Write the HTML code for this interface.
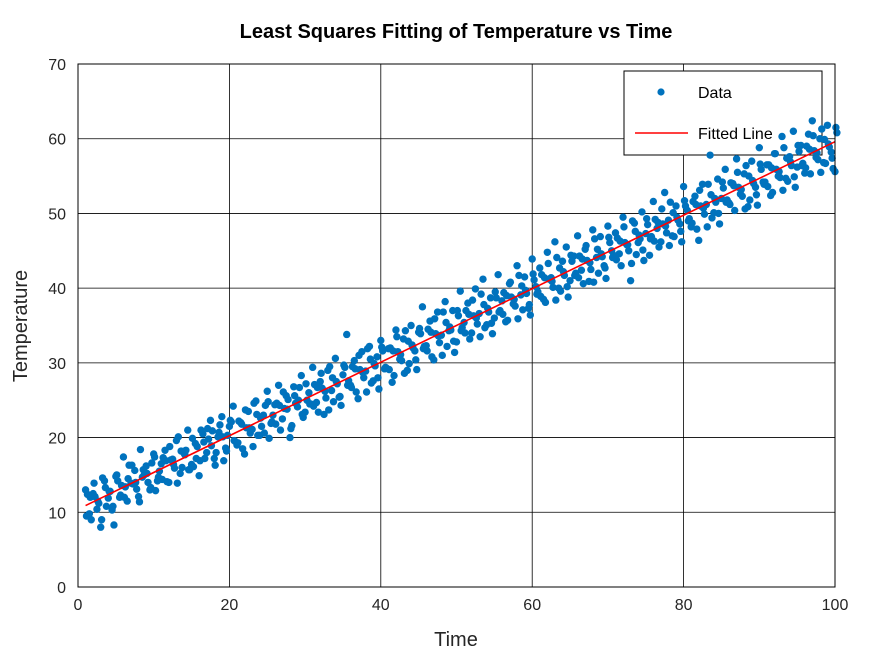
<!DOCTYPE html>
<html><head><meta charset="utf-8"><style>
body{margin:0;background:#fff;}
svg{display:block;font-family:"Liberation Sans",sans-serif;}
</style></head><body>
<svg id="chart" width="871" height="654">
<rect x="0" y="0" width="871" height="654" fill="#fff"/>
<text x="456" y="38" text-anchor="middle" font-size="20" font-weight="bold" fill="#000">Least Squares Fitting of Temperature vs Time</text>
<g id="grid"></g>
<g>
<rect x="624" y="71" width="198" height="84" fill="#fff" stroke="#000" stroke-width="1"/>
<circle cx="661" cy="92" r="3.6" fill="#0072BD"/>
<text x="698" y="98" font-size="16" fill="#000">Data</text>
<line x1="635" y1="133" x2="688" y2="133" stroke="#ff0000" stroke-width="1.6"/>
<text x="698" y="139" font-size="16" fill="#000">Fitted Line</text>
</g>
<g id="points"></g>
<g id="fit"></g>
<rect x="78" y="64" width="757" height="523" fill="none" stroke="#000" stroke-width="1"/>
<g id="ticks"></g>
<text x="456" y="646" text-anchor="middle" font-size="20" fill="#262626">Time</text>
<text transform="translate(27,326) rotate(-90)" text-anchor="middle" font-size="20" fill="#262626">Temperature</text>
</svg>
<script>
const xTicks=[0,20,40,60,80,100];
const yTicks=[0,10,20,30,40,50,60,70];
const tempA=[13.0,9.8,12.5,10.4,8.0,14.2,11.9,10.3,14.8,12.0,17.4,11.5,13.9,15.6,12.1,14.7,16.2,13.0,17.8,14.2,16.5,18.3,14.0,17.1,19.6,15.2,17.9,21.0,16.4,19.2,14.9,20.5,18.0,22.3,17.2,20.1,22.8,18.6,21.5,24.2,19.0,22.0,17.8,23.5,21.1,24.9,20.3,23.0,26.2,21.9,24.4,27.0,22.5,25.6,20.0,26.8,24.1,28.3,23.4,26.0,29.4,24.7,27.5,23.1,29.0,26.3,30.6,25.4,28.4,33.8,27.0,30.3,25.2,31.5,28.9,32.2,27.6,30.8,33.0,29.2,31.9,27.4,34.4,30.5,33.2,29.0,35.0,31.6,34.1,37.5,32.3,35.6,30.4,36.8,33.7,38.2,34.3,37.0,32.8,39.6,35.4,38.0,34.0,39.9,36.6,41.2,35.1,38.7,36.0,41.8,38.3,35.5,40.6,37.9,43.0,39.1,41.5,37.3,43.9,40.2,42.7,38.5,44.8,41.4,46.2,40.0,43.6,45.5,41.0,44.3,47.0,42.4,45.2,40.9,47.8,44.1,46.9,43.0,48.3,45.0,47.4,44.6,49.5,45.8,41.0,48.7,46.1,50.2,47.3,44.4,51.6,48.0,46.2,52.8,49.1,47.0,51.0,48.6,53.6,50.4,48.2,52.3,46.4,53.9,51.2,57.8,50.1,54.6,52.0,55.9,51.4,54.0,57.3,52.6,55.3,50.9,57.0,53.5,58.8,54.2,56.5,52.4,58.0,55.0,60.3,54.7,57.6,61.0,56.2,59.1,55.4,60.6,62.4,57.5,60.0,56.8,61.8,58.2,55.6];
const tempB=[12.4,9.0,12.1,11.2,14.6,10.8,12.8,8.3,14.2,13.6,13.4,16.3,13.8,13.1,18.4,15.0,14.0,16.6,12.9,15.5,17.3,14.1,17.0,15.9,20.1,16.0,18.3,15.7,16.1,18.8,21.0,17.2,19.8,20.9,18.0,21.7,16.9,20.3,22.1,19.5,22.2,18.5,21.3,20.6,24.6,20.3,21.5,24.3,19.9,23.0,24.6,21.0,23.9,25.1,21.6,24.6,26.7,22.7,25.0,24.5,27.1,23.4,26.6,25.3,29.5,24.8,27.2,24.3,29.4,27.6,29.5,26.1,29.1,28.0,31.9,27.3,29.6,26.5,31.6,29.3,32.0,28.3,31.5,30.3,34.3,29.9,32.0,29.1,33.9,32.2,34.5,30.8,33.9,32.7,36.8,32.2,34.4,31.4,36.3,34.7,37.0,33.2,36.3,35.2,39.2,34.7,36.8,33.9,38.7,37.0,39.4,35.7,38.8,37.6,41.7,37.1,39.3,36.4,41.1,39.5,41.8,38.1,41.2,40.1,44.1,39.6,41.7,38.8,43.6,42.0,44.3,40.6,43.7,42.5,46.6,42.0,44.2,41.3,46.1,44.4,46.7,43.0,46.1,45.0,49.0,44.5,46.6,43.7,48.5,46.9,49.2,45.5,48.6,47.4,51.5,46.9,49.1,46.2,51.0,49.3,51.6,47.9,51.0,49.9,53.9,49.4,51.5,48.6,53.4,51.8,54.1,50.4,53.5,52.3,56.4,51.8,54.0,51.1,55.9,54.2,56.5,52.8,55.9,54.8,58.8,54.3,56.4,53.5,58.3,56.7,59.0,55.3,58.4,57.2,61.3,56.7,58.9,56.0,60.8];
const tempC=[9.5,12.0,13.9,11.5,9.0,13.3,12.8,10.8,15.0,12.3,12.0,14.5,16.3,14.0,11.4,15.7,15.2,13.3,17.4,14.7,14.4,16.9,18.8,16.4,13.9,18.2,17.7,15.7,19.9,17.2,16.9,19.4,21.2,18.9,16.3,20.7,20.1,18.2,22.3,19.6,19.3,21.8,23.7,21.3,18.8,23.1,22.6,20.6,24.8,22.1,21.8,24.3,26.1,23.8,21.2,25.6,25.0,23.1,27.2,24.5,24.2,26.7,28.6,26.2,23.7,28.0,27.5,25.5,29.7,27.0,26.7,29.2,31.0,28.7,26.1,30.5,29.9,28.0,32.1,29.4,29.1,31.6,33.5,31.1,28.6,32.9,32.4,30.4,34.6,31.9,31.6,34.1,35.9,33.6,31.0,35.4,34.8,32.9,37.0,34.3,34.0,36.5,38.4,36.0,33.5,37.8,37.3,35.3,39.5,36.8,36.5,39.0,40.8,38.5,35.9,40.3,39.7,37.8,41.9,39.2,38.9,41.4,43.3,40.9,38.4,42.7,42.2,40.2,44.4,41.7,41.4,43.9,45.7,43.4,40.8,45.2,44.6,42.7,46.8,44.1,43.8,46.3,48.2,45.8,43.3,47.6,47.1,45.1,49.3,46.6,46.3,48.8,50.6,48.3,45.7,50.1,49.5,47.6,51.7,49.0,48.7,51.2,53.1,50.7,48.2,52.5,52.0,50.0,54.2,51.5,51.2,53.7,55.5,53.2,50.6,55.0,54.4,52.5,56.6,53.9,53.6,56.1,58.0,55.6,53.1,57.4,56.9,54.9,59.1,56.4,56.1,58.6,60.4,58.1,55.5,59.9,59.3,57.4,61.5];
const timeStartA=[1],timeStartB=[1.25],timeStartC=[1.12];
const timeStep=[0.5];
const fitX=[1,100];
const fitY=[10.9,59.6];
const NS="http://www.w3.org/2000/svg";
function xs(v){return 78+(v-0)/(100-0)*757;}
function ys(v){return 587-(v-0)/(70-0)*523;}
const grid=document.getElementById('grid'),ticks=document.getElementById('ticks');
xTicks.forEach(t=>{
 const l=document.createElementNS(NS,'line');
 l.setAttribute('x1',xs(t));l.setAttribute('x2',xs(t));l.setAttribute('y1',64);l.setAttribute('y2',587);
 l.setAttribute('stroke','#000');l.setAttribute('stroke-width','0.8');
 
 
 grid.appendChild(l);
 const tx=document.createElementNS(NS,'text');
 tx.setAttribute('x',xs(t));tx.setAttribute('y',610);tx.setAttribute('text-anchor','middle');
 tx.setAttribute('font-size','16');tx.setAttribute('fill','#262626');tx.textContent=t;
 
 
 ticks.appendChild(tx);
});
yTicks.forEach(t=>{
 const l=document.createElementNS(NS,'line');
 l.setAttribute('x1',78);l.setAttribute('x2',835);l.setAttribute('y1',ys(t));l.setAttribute('y2',ys(t));
 l.setAttribute('stroke','#000');l.setAttribute('stroke-width','0.8');
 
 
 grid.appendChild(l);
 const tx=document.createElementNS(NS,'text');
 tx.setAttribute('x',66);tx.setAttribute('y',ys(t)+6);tx.setAttribute('text-anchor','end');
 tx.setAttribute('font-size','16');tx.setAttribute('fill','#262626');tx.textContent=t;
 
 
 ticks.appendChild(tx);
});
const pts=document.getElementById('points');
function drawSeries(arr,start){
 arr.forEach((v,i)=>{
  const c=document.createElementNS(NS,'circle');
  c.setAttribute('cx',xs(start+i*timeStep[0]));c.setAttribute('cy',ys(v));c.setAttribute('r','3.7');
  c.setAttribute('fill','#0072BD');
  
  
  pts.appendChild(c);
 });
}
drawSeries(tempA,timeStartA[0]);
drawSeries(tempB,timeStartB[0]);
drawSeries(tempC,timeStartC[0]);
const fl=document.createElementNS(NS,'line');
fl.setAttribute('x1',xs(fitX[0]));fl.setAttribute('y1',ys(fitY[0]));
fl.setAttribute('x2',xs(fitX[1]));fl.setAttribute('y2',ys(fitY[1]));
fl.setAttribute('stroke','#ff0000');fl.setAttribute('stroke-width','1.6');


document.getElementById('fit').appendChild(fl);
</script>
</body></html>
